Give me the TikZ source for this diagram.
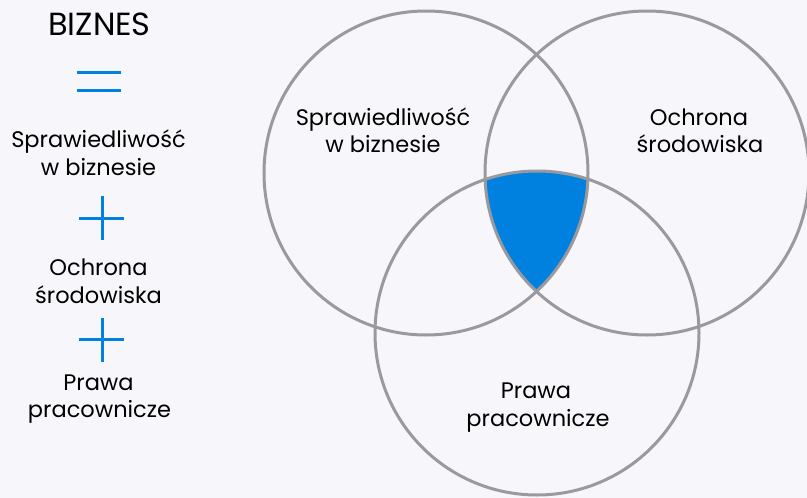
\documentclass[tikz,border=0pt]{standalone}
\usepackage{fontspec}
\setmainfont{Poppins}
\definecolor{bg}{HTML}{F7F7FB}
\definecolor{ring}{HTML}{9A9A9E}
\definecolor{accent}{HTML}{0080DF}
\begin{document}
\begin{tikzpicture}[x=1pt,y=-1pt,
  lbl/.style={anchor=base,inner sep=0pt,font=\fontsize{22.5}{26}\selectfont,text=black},
  ttl/.style={anchor=base,inner sep=0pt,font=\fontsize{32}{36}\selectfont,text=black},
  ringline/.style={draw=ring,line width=3pt},
  sign/.style={draw=accent,line width=3pt}]
\fill[bg] (0,0) rectangle (807,498);
\useasboundingbox (0,0) rectangle (807,498);
% intersection
\begin{scope}
  \clip (426,173) circle (162);
  \clip (647,173) circle (162);
  \fill[accent] (537,333) circle (162);
\end{scope}
\draw[ringline] (426,173) circle (162);
\draw[ringline] (647,173) circle (162);
\draw[ringline] (537,333) circle (162);
% venn labels
\node[lbl] (a1) at (383,125) {Sprawiedliwość};
\node[lbl] (a2) at (383,152) {w biznesie};
\node[lbl] (b1) at (699,125) {Ochrona};
\node[lbl] (b2) at (700,152) {środowiska};
\node[lbl] (c1) at (536,398) {Prawa};
\node[lbl] (c2) at (538,426) {pracownicze};
% left column
\node[ttl] (t) at (99.5,35.5) {BIZNES};
\coordinate (e1l) at (77,72); \coordinate (e1r) at (121,72);
\coordinate (e2l) at (77,90); \coordinate (e2r) at (121,90);
\draw[sign] (e1l) -- (e1r);
\draw[sign] (e2l) -- (e2r);
\node[lbl] (l1) at (98.5,147) {Sprawiedliwość};
\node[lbl] (l2) at (98.5,175) {w biznesie};
\coordinate (p1l) at (79,218); \coordinate (p1r) at (124,218);
\coordinate (p1t) at (102,196); \coordinate (p1b) at (102,240);
\draw[sign] (p1l) -- (p1r);
\draw[sign] (p1t) -- (p1b);
\node[lbl] (l3) at (98.5,275) {Ochrona};
\node[lbl] (l4) at (98.5,303) {środowiska};
\coordinate (p2l) at (79,339); \coordinate (p2r) at (124,339);
\coordinate (p2t) at (102,318); \coordinate (p2b) at (102,362);
\draw[sign] (p2l) -- (p2r);
\draw[sign] (p2t) -- (p2b);
\node[lbl] (l5) at (98.5,390) {Prawa};
\node[lbl] (l6) at (99.5,417) {pracownicze};
\end{tikzpicture}
\end{document}
